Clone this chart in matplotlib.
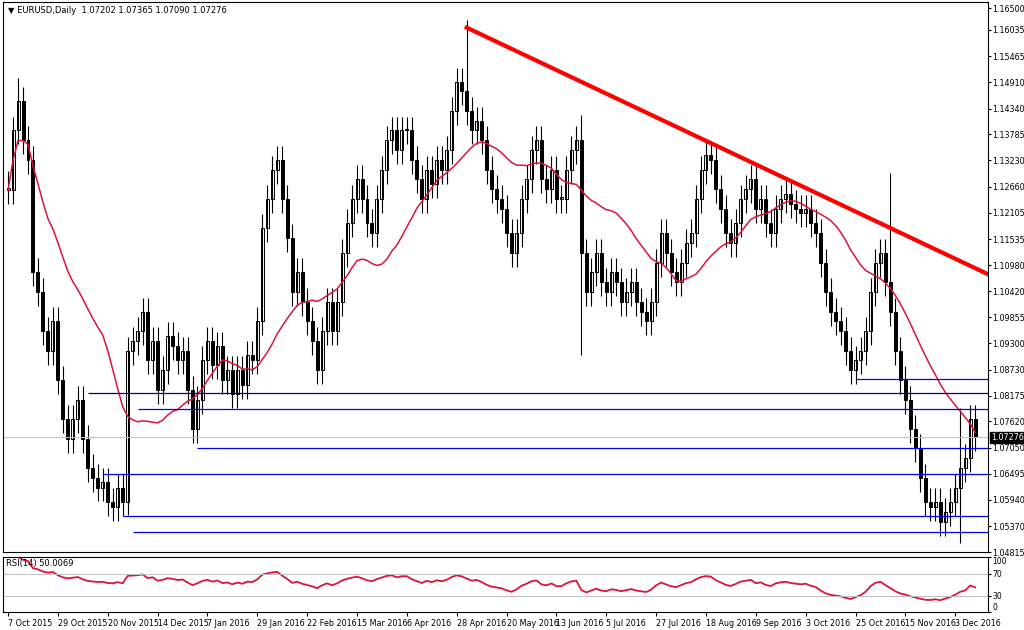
import matplotlib
matplotlib.use("Agg")
import matplotlib.pyplot as plt
import numpy as np
import pandas as pd

# closes, one candle per ~3 trading days
closes = [
    1.1259, 1.1387, 1.1450, 1.1366, 1.1324, 1.1082, 1.1040, 1.0956, 1.0914, 1.0977,
    1.0851, 1.0767, 1.0725, 1.0767, 1.0809, 1.0725, 1.0662, 1.0641, 1.0620, 1.0631,
    1.0588, 1.0578, 1.0620, 1.0588, 1.0914, 1.0935, 1.0956, 1.0998, 1.0893, 1.0935,
    1.0830, 1.0872, 1.0946, 1.0925, 1.0893, 1.0914, 1.0830, 1.0746, 1.0809, 1.0893,
    1.0935, 1.0883, 1.0925, 1.0851, 1.0872, 1.0820, 1.0872, 1.0841, 1.0904, 1.0893,
    1.0977, 1.1177, 1.1240, 1.1303, 1.1324, 1.1240, 1.1156, 1.1040, 1.1082, 1.1019,
    1.0977, 1.0935, 1.0872, 1.0956, 1.1019, 1.0956, 1.1019, 1.1124, 1.1188, 1.1240,
    1.1282, 1.1240, 1.1188, 1.1167, 1.1240, 1.1303, 1.1366, 1.1387, 1.1345, 1.1387,
    1.1387, 1.1324, 1.1282, 1.1240, 1.1303, 1.1272, 1.1324, 1.1303, 1.1345, 1.1429,
    1.1492, 1.1471, 1.1429, 1.1387, 1.1408, 1.1366, 1.1303, 1.1261, 1.1240, 1.1219,
    1.1167, 1.1124, 1.1167, 1.1240, 1.1282, 1.1345, 1.1366, 1.1282, 1.1261, 1.1303,
    1.1240, 1.1240, 1.1303, 1.1345, 1.1366, 1.1124, 1.1040, 1.1082, 1.1124, 1.1061,
    1.1040, 1.1082, 1.1061, 1.1019, 1.1040, 1.1061, 1.1019, 1.0998, 1.0977, 1.1019,
    1.1103, 1.1167, 1.1124, 1.1082, 1.1061, 1.1103, 1.1146, 1.1167, 1.1240, 1.1303,
    1.1335, 1.1324, 1.1261, 1.1219, 1.1167, 1.1146, 1.1188, 1.1240, 1.1261, 1.1282,
    1.1219, 1.1240, 1.1188, 1.1167, 1.1219, 1.1240, 1.1251, 1.1230, 1.1219, 1.1209,
    1.1219, 1.1188, 1.1167, 1.1103, 1.1040, 1.0998, 1.0977, 1.0956, 1.0914, 1.0872,
    1.0893, 1.0914, 1.0956, 1.1040, 1.1103, 1.1124, 1.1061, 1.0998, 1.0914, 1.0851,
    1.0809, 1.0746, 1.0704, 1.0641, 1.0588, 1.0578, 1.0588, 1.0546, 1.0567, 1.0588,
    1.0620, 1.0662, 1.0683, 1.0767, 1.07276,
]
wick = 0.003
# notable wick extremes: bar -> (high, low)
spikes = {0: (1.1300, None), 2: (1.1500, None), 24: (None, 1.0560), 92: (1.1625, None),
          115: (1.1420, 1.0905), 177: (1.1296, None), 191: (1.0790, 1.0500)}

date_labels = ["7 Oct 2015", "29 Oct 2015", "20 Nov 2015", "14 Dec 2015", "7 Jan 2016",
               "29 Jan 2016", "22 Feb 2016", "15 Mar 2016", "6 Apr 2016", "28 Apr 2016",
               "20 May 2016", "13 Jun 2016", "5 Jul 2016", "27 Jul 2016", "18 Aug 2016",
               "9 Sep 2016", "3 Oct 2016", "25 Oct 2016", "15 Nov 2016", "3 Dec 2016"]
price_ticks = [1.16500, 1.16035, 1.15465, 1.14910, 1.14340, 1.13785, 1.13230, 1.12660,
               1.12105, 1.11535, 1.10980, 1.10420, 1.09855, 1.09300, 1.08730, 1.08175,
               1.07620, 1.07050, 1.06495, 1.05940, 1.05370, 1.04815]

# support / resistance levels: (price, start bar, colour)
levels = [(1.0823, 16, "#000080"), (1.0789, 26, "blue"), (1.0705, 38, "blue"),
          (1.0649, 19, "blue"), (1.0559, 23, "blue"), (1.0524, 25, "blue"),
          (1.0853, 170, "blue")]
trend = [(92, 1.1608), (196.6, 1.1078)]
last_price = 1.07276

c = np.array(closes)
o = np.r_[c[0], c[:-1]]
hi = np.maximum(o, c) + wick
lo = np.minimum(o, c) - wick
for i, (h, l) in spikes.items():
    if h is not None:
        hi[i] = h
    if l is not None:
        lo[i] = l
idx = np.arange(len(c))

fig = plt.figure(figsize=(10.24, 6.3), dpi=100)
ax = fig.add_axes([0.003, 1 - 552 / 630, 0.962, 550 / 630])
ax2 = fig.add_axes([0.003, 1 - 612 / 630, 0.962, 55 / 630])

ax.vlines(idx, lo, hi, color="black", lw=0.8)
body = np.abs(c - o)
body[body < 0.0004] = 0.0004
ax.bar(idx, body, bottom=np.minimum(o, c), width=0.6,
       color=["white" if cc >= oo else "black" for oo, cc in zip(o, c)],
       edgecolor="black", lw=0.7)

ma = pd.Series(c).rolling(20, min_periods=1).mean()
ax.plot(idx, ma, color="#dc143c", lw=1.1)

for p, start, col in levels:
    ax.hlines(p, start, 197, color=col, lw=0.9)
ax.axhline(last_price, color="#c0c0c0", lw=0.7)
ax.plot([trend[0][0], trend[1][0]], [trend[0][1], trend[1][1]], color="red", lw=3)

ax.set_xlim(-1, 196.6)
ax.set_ylim(1.04815, 1.1663)
ax.yaxis.tick_right()
ax.tick_params(axis="y", length=2, pad=1)
ax.set_yticks(price_ticks)
ax.set_yticklabels([f"{t:.5f}" for t in price_ticks], fontsize=5.8)
ax.set_xticks([])
ax.text(1.003, last_price, f"{last_price:.5f}", transform=ax.get_yaxis_transform(),
        fontsize=5.8, color="white", va="center", ha="left",
        bbox=dict(boxstyle="square,pad=0.15", fc="black", ec="black"))
ax.text(0.005, 0.993, "\u25bc EURUSD,Daily  1.07202 1.07365 1.07090 1.07276",
        transform=ax.transAxes, fontsize=6, va="top")

# RSI(14)
d = pd.Series(c).diff()
up = d.clip(lower=0).ewm(alpha=1 / 14, adjust=False).mean()
dn = (-d.clip(upper=0)).ewm(alpha=1 / 14, adjust=False).mean()
rsi = 100 - 100 / (1 + up / dn)
ax2.plot(idx, rsi, color="#dc143c", lw=1.3)
for lv in (70, 30):
    ax2.axhline(lv, color="#c0c0c0", lw=0.7)
ax2.set_xlim(-1, 196.6)
ax2.set_ylim(0, 100)
ax2.yaxis.tick_right()
ax2.tick_params(axis="y", length=2, pad=1, labelsize=5.5)
ax2.set_yticks([100, 70, 30, 0])
ax2.set_yticklabels(["100", "70", "30", "0"])
ax2.get_yticklabels()[0].set_va("top")
ax2.get_yticklabels()[-1].set_va("bottom")
ax2.set_xticks(np.arange(0, 200, 10))
ax2.set_xticklabels(date_labels, fontsize=5.8, ha="left")
ax2.tick_params(axis="x", length=3, pad=2)
ax2.text(0.003, 0.97, "RSI(14) 50.0069", transform=ax2.transAxes, fontsize=6, va="top")

fig.savefig("out.png", dpi=100)
